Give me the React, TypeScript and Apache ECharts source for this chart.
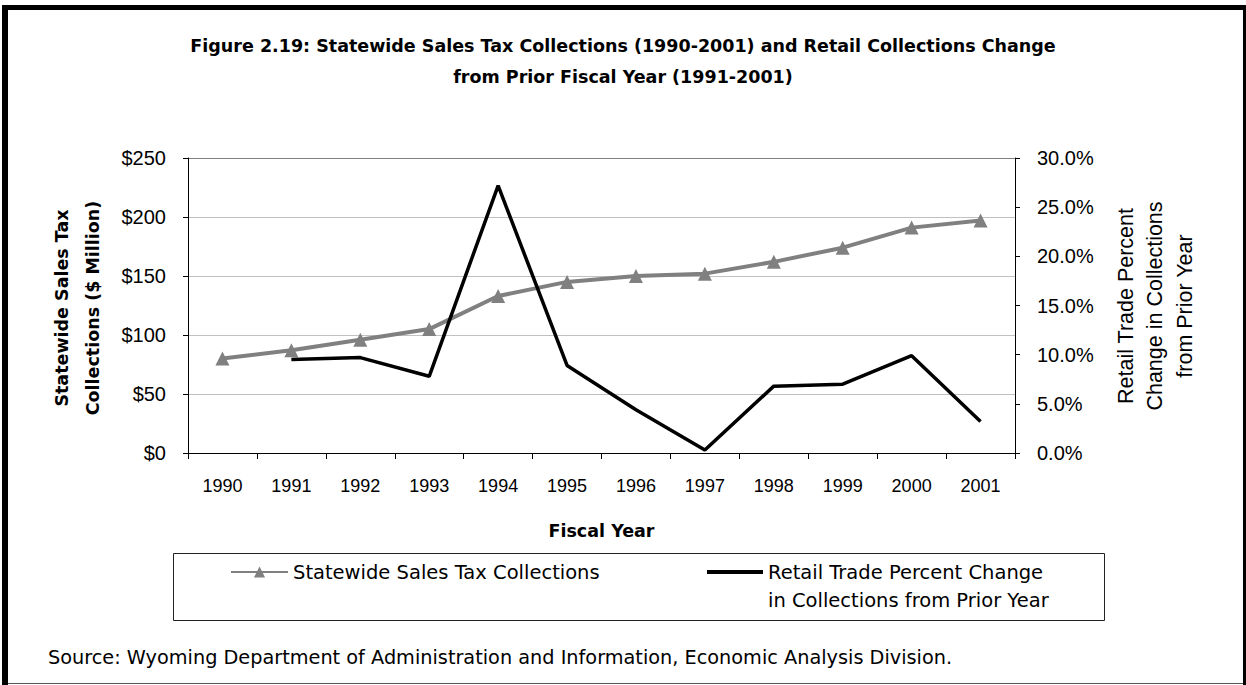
import React, { useEffect, useRef } from "react";
import * as echarts from "echarts";

const years = ["1990", "1991", "1992", "1993", "1994", "1995", "1996", "1997", "1998", "1999", "2000", "2001"];
const salesTaxCollections = [80, 87, 96, 105, 133, 145, 150, 152, 162, 174, 191, 197];
const retailPercentChange = [null, 9.5, 9.7, 7.8, 27.2, 8.9, 4.4, 0.3, 6.8, 7.0, 9.9, 3.2];

const leftAxisRange = [0, 250, 50];
const rightAxisRange = [0, 30, 5];

const titleText = "Figure 2.19: Statewide Sales Tax Collections (1990-2001) and Retail Collections Change\nfrom Prior Fiscal Year (1991-2001)";
const xAxisTitle = "Fiscal Year";
const leftAxisTitle = "Statewide Sales Tax\nCollections ($ Million)";
const rightAxisTitle = "Retail Trade Percent\nChange in Collections\nfrom Prior Year";
const seriesNames = ["Statewide Sales Tax Collections", "Retail Trade Percent Change in Collections from Prior Year"];
const legendLabel2 = "Retail Trade Percent Change\nin Collections from Prior Year";
const sourceText = "Source: Wyoming Department of Administration and Information, Economic Analysis Division.";

const HUMAN = "'DejaVu Sans', Verdana, sans-serif";
const ARIAL = "'Liberation Sans', Arial, sans-serif";

export default function App() {
  const ref = useRef<HTMLDivElement>(null);
  useEffect(() => {
    if (!ref.current) return;
    const chart = echarts.init(ref.current, null, { renderer: "svg" });
    chart.setOption({
      animation: false,
      backgroundColor: "#ffffff",
      title: {
        text: titleText,
        left: "center",
        top: 30,
        padding: 0,
        textStyle: { fontFamily: HUMAN, fontWeight: "bold", fontSize: 17.5, lineHeight: 31, color: "#000" },
      },
      grid: { left: 188, right: 231, top: 158, bottom: 232, containLabel: false },
      legend: [
        {
          data: [seriesNames[0]],
          left: 230,
          top: 558,
          padding: 0,
          itemWidth: 57,
          itemHeight: 14,
          selectedMode: false,
          textStyle: { fontFamily: HUMAN, fontSize: 19.5, lineHeight: 28, color: "#000" },
        },
        {
          data: [{ name: seriesNames[1], icon: "rect" }],
          left: 707,
          top: 530,
          padding: 0,
          itemWidth: 56,
          itemHeight: 4,
          selectedMode: false,
          formatter: () => "\n" + legendLabel2,
          itemStyle: { color: "#000" },
          textStyle: { fontFamily: HUMAN, fontSize: 19.5, lineHeight: 28, color: "#000" },
        },
      ],
      xAxis: {
        type: "category",
        data: years,
        boundaryGap: true,
        name: xAxisTitle,
        nameLocation: "middle",
        nameGap: 69,
        nameTextStyle: { fontFamily: HUMAN, fontWeight: "bold", fontSize: 17.5, color: "#000" },
        axisLine: { lineStyle: { color: "#000", width: 1 } },
        axisTick: { show: true, length: 6, lineStyle: { color: "#000" } },
        axisLabel: { fontFamily: ARIAL, fontSize: 18, color: "#000", margin: 24 },
      },
      yAxis: [
        {
          type: "value",
          min: leftAxisRange[0],
          max: leftAxisRange[1],
          interval: leftAxisRange[2],
          position: "left",
          axisLine: { show: true, lineStyle: { color: "#000", width: 1 } },
          axisTick: { show: true, length: 5, lineStyle: { color: "#000" } },
          axisLabel: { fontFamily: ARIAL, fontSize: 20, color: "#000", margin: 22, formatter: (v: number) => "$" + v },
          splitLine: {
            show: true,
            lineStyle: { color: ["#c0c0c0", "#c0c0c0", "#c0c0c0", "#c0c0c0", "#c0c0c0", "#808080"], width: 1 },
          },
        },
        {
          type: "value",
          min: rightAxisRange[0],
          max: rightAxisRange[1],
          interval: rightAxisRange[2],
          position: "right",
          axisLine: { show: true, lineStyle: { color: "#000", width: 1 } },
          axisTick: { show: true, length: 5, lineStyle: { color: "#000" } },
          axisLabel: { fontFamily: ARIAL, fontSize: 20, color: "#000", margin: 22, formatter: (v: number) => v.toFixed(1) + "%" },
          splitLine: { show: false },
        },
      ],
      series: [
        {
          name: seriesNames[0],
          type: "line",
          yAxisIndex: 0,
          data: salesTaxCollections,
          symbol: "triangle",
          symbolSize: 14,
          color: "#808080",
          itemStyle: { color: "#808080" },
          lineStyle: { color: "#808080", width: 4 },
          z: 2,
        },
        {
          name: seriesNames[1],
          type: "line",
          yAxisIndex: 1,
          data: retailPercentChange,
          symbol: "none",
          color: "#000",
          lineStyle: { color: "#000", width: 3.5 },
          z: 3,
        },
      ],
      graphic: [
        { type: "rect", shape: { x: 2, y: 5, width: 6, height: 680 }, style: { fill: "#000" } },
        { type: "rect", shape: { x: 2, y: 5, width: 1244, height: 5 }, style: { fill: "#000" } },
        { type: "rect", shape: { x: 1243, y: 5, width: 3, height: 680 }, style: { fill: "#000" } },
        { type: "line", shape: { x1: 8, y1: 683.5, x2: 1243, y2: 683.5 }, style: { stroke: "#555", lineWidth: 1 } },
        { type: "rect", shape: { x: 173.5, y: 553.5, width: 931, height: 67 }, style: { fill: "none", stroke: "#222", lineWidth: 1 } },
        {
          type: "text",
          x: 77,
          y: 308,
          rotation: Math.PI / 2,
          style: { text: leftAxisTitle, fontFamily: HUMAN, fontWeight: "bold", fontSize: 17.5, lineHeight: 31, fill: "#000", textAlign: "center", textVerticalAlign: "middle" },
        },
        {
          type: "text",
          x: 1155,
          y: 306,
          rotation: Math.PI / 2,
          style: { text: rightAxisTitle, fontFamily: ARIAL, fontSize: 21.5, lineHeight: 29.5, fill: "#000", textAlign: "center", textVerticalAlign: "middle" },
        },
        {
          type: "text",
          x: 48,
          y: 657,
          style: { text: sourceText, fontFamily: HUMAN, fontSize: 19.3, fill: "#000", textAlign: "left", textVerticalAlign: "middle" },
        },
      ],
    });
    return () => chart.dispose();
  }, []);
  return <div ref={ref} style={{ position: "absolute", left: 0, top: 0, width: 1246, height: 685 }} />;
}
